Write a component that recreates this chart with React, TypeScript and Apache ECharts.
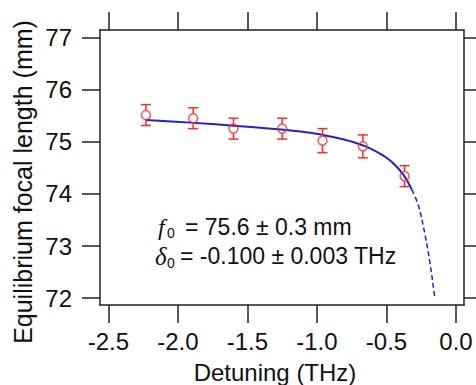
import React, { useEffect, useRef } from "react";
import * as echarts from "echarts";

const detuning = [-2.23, -1.89, -1.6, -1.25, -0.96, -0.67, -0.37];
const focal = [75.51, 75.45, 75.25, 75.25, 75.02, 74.91, 74.34];
const focalErr = [0.2, 0.2, 0.2, 0.2, 0.23, 0.22, 0.2];

const fitX = [-2.23, -1.91, -1.55, -1.19, -1.05, -0.906, -0.762, -0.618, -0.474, -0.379, -0.318];
const fitY = [75.415, 75.365, 75.295, 75.215, 75.17, 75.1, 75.01, 74.87, 74.64, 74.37, 74.08];
const extX = [-0.318, -0.271, -0.223, -0.187, -0.163, -0.152];
const extY = [74.08, 73.78, 73.22, 72.67, 72.22, 72.0];

const xTicks = [-2.5, -2.0, -1.5, -1.0, -0.5, 0.0];
const yTicks = [72, 73, 74, 75, 76, 77];

const FONT = "Liberation Sans, Arial, sans-serif";
const AX = "#222";

export default function App() {
  const ref = useRef<HTMLDivElement>(null);
  useEffect(() => {
    document.body.style.margin = "0";
    const chart = echarts.init(ref.current!, null, { renderer: "svg" });
    const axLine = { show: true, onZero: false, lineStyle: { color: AX, width: 1.5 } };
    const tick = (vals: number[]) => ({
      show: true,
      inside: false,
      length: 18,
      customValues: vals,
      lineStyle: { color: AX, width: 1.5 },
    });
    const option: any = {
      animation: false,
      grid: { left: 100, right: 12, top: 30, bottom: 80 },
      xAxis: [
        {
          type: "value",
          min: -2.56,
          max: 0.0575,
          position: "bottom",
          axisLine: axLine,
          axisTick: tick(xTicks),
          splitLine: { show: false },
          axisLabel: {
            customValues: xTicks,
            formatter: (v: number) => (Math.abs(v) < 1e-9 ? "0.0" : v.toFixed(1)),
            fontFamily: FONT,
            fontSize: 24,
            color: "#111",
            margin: 24,
          },
        },
        {
          type: "value",
          min: -2.56,
          max: 0.0575,
          position: "top",
          axisLine: axLine,
          axisTick: tick(xTicks),
          splitLine: { show: false },
          axisLabel: { show: false },
        },
      ],
      yAxis: [
        {
          type: "value",
          min: 71.87,
          max: 77.14,
          position: "left",
          axisLine: axLine,
          axisTick: tick(yTicks),
          splitLine: { show: false },
          axisLabel: {
            customValues: yTicks,
            formatter: (v: number) => String(Math.round(v)),
            fontFamily: FONT,
            fontSize: 24,
            color: "#111",
            margin: 28,
          },
        },
        {
          type: "value",
          min: 71.87,
          max: 77.14,
          position: "right",
          axisLine: axLine,
          axisTick: tick(yTicks),
          splitLine: { show: false },
          axisLabel: { show: false },
        },
      ],
      graphic: [
        {
          type: "text",
          x: 275,
          y: 372,
          style: {
            text: "Detuning (THz)",
            font: `24px ${FONT}`,
            fill: "#111",
            align: "center",
            verticalAlign: "middle",
          },
        },
        {
          type: "text",
          x: 23,
          y: 182,
          rotation: Math.PI / 2,
          style: {
            text: "Equilibrium focal length (mm)",
            font: `25px ${FONT}`,
            fill: "#111",
            align: "center",
            verticalAlign: "middle",
          },
        },
        {
          type: "text",
          x: 158,
          y: 227,
          style: {
            text: "f",
            font: `italic 24px Liberation Serif, serif`,
            fill: "#111",
            align: "left",
            verticalAlign: "middle",
          },
        },
        {
          type: "text",
          x: 167,
          y: 233,
          style: {
            text: "0",
            font: `14px ${FONT}`,
            fill: "#111",
            align: "left",
            verticalAlign: "middle",
          },
        },
        {
          type: "text",
          x: 185,
          y: 227,
          style: {
            text: "= 75.6 ± 0.3 mm",
            font: `23px ${FONT}`,
            fill: "#111",
            align: "left",
            verticalAlign: "middle",
          },
        },
        {
          type: "text",
          x: 155,
          y: 256,
          style: {
            text: "δ",
            font: `italic 25px Liberation Serif, serif`,
            fill: "#111",
            align: "left",
            verticalAlign: "middle",
          },
        },
        {
          type: "text",
          x: 167,
          y: 263,
          style: {
            text: "0",
            font: `14px ${FONT}`,
            fill: "#111",
            align: "left",
            verticalAlign: "middle",
          },
        },
        {
          type: "text",
          x: 180,
          y: 256,
          style: {
            text: "= -0.100 ± 0.003 THz",
            font: `23px ${FONT}`,
            fill: "#111",
            align: "left",
            verticalAlign: "middle",
          },
        },
      ],
      series: [
        {
          type: "line",
          data: fitX.map((x, i) => [x, fitY[i]]),
          smooth: 0.4,
          showSymbol: false,
          lineStyle: { color: "#2020d8", width: 2 },
          z: 2,
        },
        {
          type: "line",
          data: extX.map((x, i) => [x, extY[i]]),
          smooth: 0.4,
          showSymbol: false,
          lineStyle: { color: "#2020d8", width: 1.5, type: [5, 3] },
          z: 2,
        },
        {
          type: "custom",
          data: detuning.map((x, i) => [x, focal[i] - focalErr[i], focal[i] + focalErr[i], focal[i]]),
          renderItem: (params: any, api: any) => {
            const lo = api.coord([api.value(0), api.value(1)]);
            const hi = api.coord([api.value(0), api.value(2)]);
            const mid = api.coord([api.value(0), api.value(3)]);
            const r = 4.5;
            const cw = 5;
            const style = { stroke: "#ff2a2a", lineWidth: 1.5 };
            return {
              type: "group",
              children: [
                { type: "line", shape: { x1: hi[0], y1: hi[1], x2: mid[0], y2: mid[1] - r }, style },
                { type: "line", shape: { x1: mid[0], y1: mid[1] + r, x2: lo[0], y2: lo[1] }, style },
                { type: "line", shape: { x1: hi[0] - cw, y1: hi[1], x2: hi[0] + cw, y2: hi[1] }, style },
                { type: "line", shape: { x1: lo[0] - cw, y1: lo[1], x2: lo[0] + cw, y2: lo[1] }, style },
              ],
            };
          },
          z: 3,
        },
        {
          type: "scatter",
          data: detuning.map((x, i) => [x, focal[i]]),
          symbol: "circle",
          symbolSize: 9,
          itemStyle: { color: "rgba(255,255,255,0)", borderColor: "#ff2a2a", borderWidth: 1.5 },
          z: 4,
        },
      ],
    };
    chart.setOption(option);
    return () => chart.dispose();
  }, []);
  return <div ref={ref} style={{ width: 476, height: 385 }} />;
}
